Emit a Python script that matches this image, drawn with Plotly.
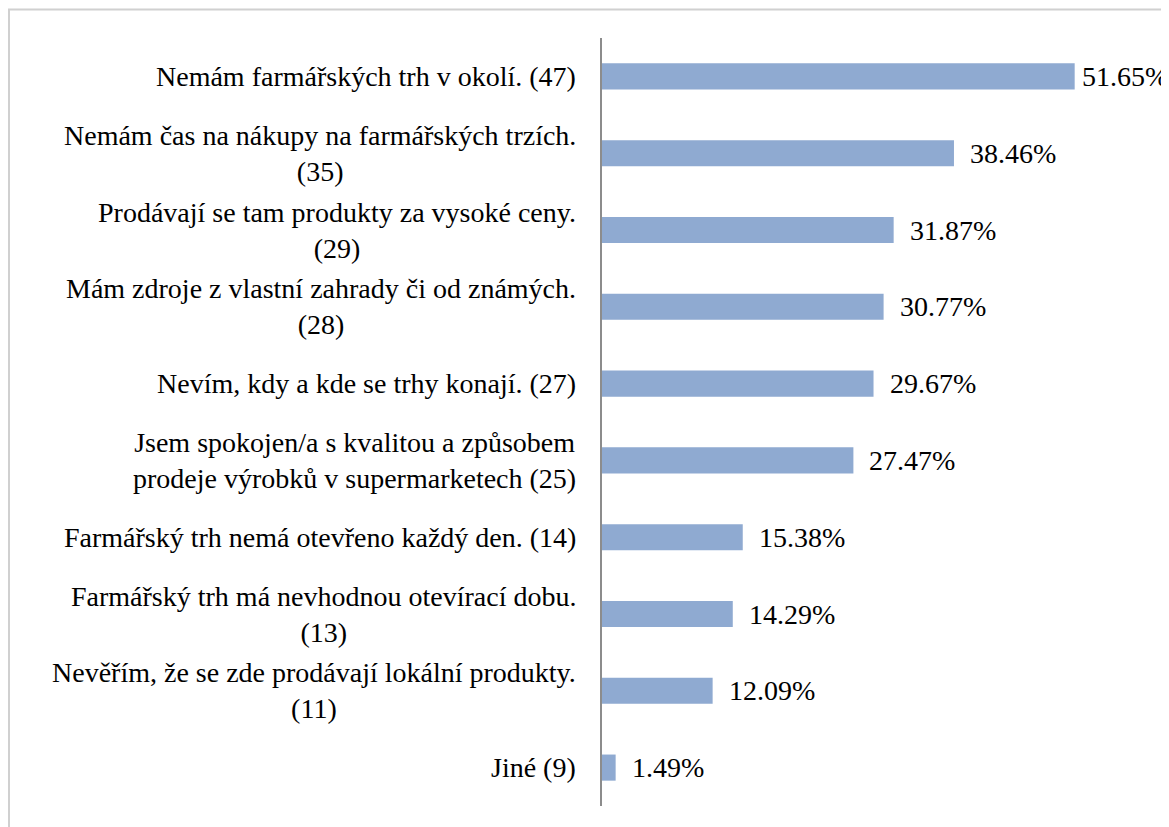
import plotly.graph_objects as go

categories = [
    "Nemám farmářských trh v okolí. (47)",
    "Nemám čas na nákupy na farmářských trzích.<br>(35)",
    "Prodávají se tam produkty za vysoké ceny.<br>(29)",
    "Mám zdroje z vlastní zahrady či od známých.<br>(28)",
    "Nevím, kdy a kde se trhy konají. (27)",
    "Jsem spokojen/a s kvalitou a způsobem<br>prodeje výrobků v supermarketech (25)",
    "Farmářský trh nemá otevřeno každý den. (14)",
    "Farmářský trh má nevhodnou otevírací dobu.<br>(13)",
    "Nevěřím, že se zde prodávají lokální produkty.<br>(11)",
    "Jiné (9)",
]
values = [51.65, 38.46, 31.87, 30.77, 29.67, 27.47, 15.38, 14.29, 12.09, 1.49]
value_labels = [f"{v:.2f}%" for v in values]

FONT = "Liberation Serif"
FS = 28

fig = go.Figure()
fig.add_trace(go.Bar(
    x=values, y=categories, orientation="h",
    marker=dict(color="#8FAAD1", line=dict(width=0)),
    hoverinfo="skip",
))

annotations = []
for cat, v, lab in zip(categories, values, value_labels):
    annotations.append(dict(
        x=0, xref="x", y=cat, yref="y", text=cat, showarrow=False,
        xanchor="right", yanchor="middle", align="center", xshift=-24,
        font=dict(family=FONT, size=FS, color="black"),
    ))
    annotations.append(dict(
        x=v, xref="x", y=cat, yref="y", text=lab, showarrow=False,
        xanchor="left", yanchor="middle", xshift=5 if v == max(values) else 14,
        font=dict(family=FONT, size=FS, color="black"),
    ))

fig.update_layout(
    width=1169, height=827,
    margin=dict(l=594, r=0, t=30, b=29),
    paper_bgcolor="white", plot_bgcolor="white",
    bargap=0.66,
    showlegend=False,
    font=dict(family=FONT),
    xaxis=dict(range=[0, 62.83], visible=False, fixedrange=True),
    yaxis=dict(type="category", autorange="reversed", showticklabels=False,
               showline=True, linecolor="#8C8C8C", linewidth=1.5,
               showgrid=False, zeroline=False, ticks=""),
    annotations=annotations,
    shapes=[dict(type="rect", xref="paper", yref="paper",
                 x0=-1.0313, x1=1.2, y0=-0.2, y1=1.0371,
                 line=dict(color="#D0D0D0", width=2), layer="below")],
)

fig.write_html("out.html")
